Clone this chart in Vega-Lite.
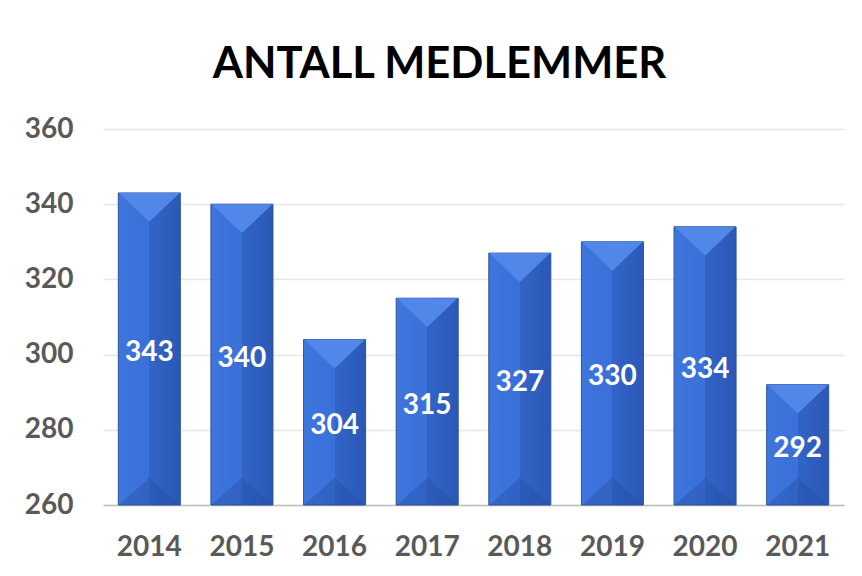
{
  "$schema": "https://vega.github.io/schema/vega-lite/v6.json",
  "width": 741,
  "height": 376,
  "autosize": {"type": "none"},
  "padding": {"left": 103, "top": 129, "right": 18, "bottom": 71},
  "background": "white",
  "title": {
    "text": "ANTALL MEDLEMMER",
    "font": "Lato",
    "fontSize": 43.5,
    "fontWeight": "bold",
    "color": "#000000",
    "anchor": "middle",
    "dx": -34,
    "offset": 28
  },
  "config": {
    "view": {"stroke": null},
    "axis": {"labelFont": "Lato", "labelFontSize": 28, "labelFontWeight": "bold", "labelColor": "#595959", "ticks": false, "title": null}
  },
  "data": {
    "values": [
      {"year": "2014", "value": 343},
      {"year": "2015", "value": 340},
      {"year": "2016", "value": 304},
      {"year": "2017", "value": 315},
      {"year": "2018", "value": 327},
      {"year": "2019", "value": 330},
      {"year": "2020", "value": 334},
      {"year": "2021", "value": 292}
    ]
  },
  "encoding": {
    "x": {
      "field": "year", "type": "nominal",
      "scale": {"paddingInner": 0.33, "paddingOuter": 0.165},
      "axis": {"labelAngle": 0, "domainColor": "#BFBFBF", "domainWidth": 1.5, "labelPadding": 28, "grid": false}
    }
  },
  "layer": [
    {
      "layer": [
        {
          "mark": {
            "type": "bar",
            "stroke": "#2F5597",
            "strokeWidth": 1,
            "color": {
              "gradient": "linear", "x1": 0, "x2": 1, "y1": 0, "y2": 0,
              "stops": [
                {"offset": 0, "color": "#3E76DE"},
                {"offset": 0.5, "color": "#3A70D8"},
                {"offset": 0.5, "color": "#3264C8"},
                {"offset": 1, "color": "#2B58B6"}
              ]
            }
          },
          "encoding": {
            "y": {
              "field": "value", "type": "quantitative",
              "scale": {"domain": [260, 360], "nice": false, "zero": false},
              "axis": {"values": [260, 280, 300, 320, 340, 360], "domain": false, "gridColor": "#E6E6E6", "gridWidth": 1.5, "labelPadding": 30}
            },
            "y2": {"datum": 260}
          }
        },
        {
          "mark": {"type": "point", "shape": "M-1,0L1,0L0,0.95Z", "filled": true, "size": 3700, "color": "#5287EA", "opacity": 1},
          "encoding": {
            "y": {"field": "value", "type": "quantitative"}
          }
        },
        {
          "mark": {"type": "point", "shape": "M-1,0L1,0L0,-0.9Z", "filled": true, "size": 3700, "color": "#234A9E", "opacity": 0.35},
          "encoding": {
            "y": {"datum": 260, "type": "quantitative"}
          }
        }
      ]
    },
    {
      "mark": {"type": "text", "font": "Lato", "fontSize": 28, "fontWeight": "bold", "color": "white", "baseline": "middle", "dy": 4},
      "encoding": {
        "y": {"field": "value", "type": "quantitative", "scale": {"domain": [260, 460], "nice": false, "zero": false}, "axis": null},
        "text": {"field": "value", "type": "quantitative"}
      }
    }
  ],
  "resolve": {"scale": {"y": "independent"}}
}
